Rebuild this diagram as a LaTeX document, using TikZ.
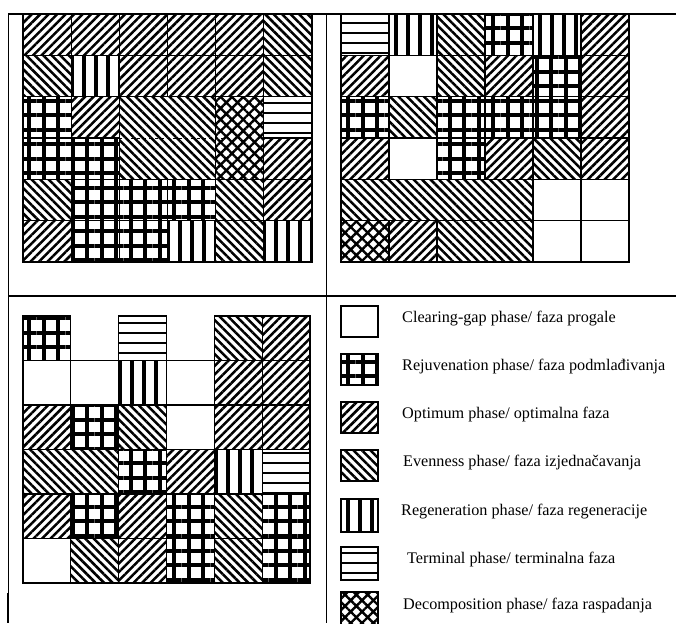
\documentclass[tikz,border=0pt]{standalone}
\usepackage{fontspec}
\setmainfont{Liberation Serif}
\usetikzlibrary{patterns.meta}
\tikzset{
  cell/.style={draw,line width=1.2pt},
  gap/.style={cell,fill=white},
  opt/.style={cell,pattern={Lines[angle=45,distance=6pt,line width=2.5pt]}},
  even/.style={cell,pattern={Lines[angle=-45,distance=6pt,line width=2.5pt]}},
  rejuv/.style={cell,pattern={Hatch[angle=0,distance=14.5pt,line width=4pt]}},
  regen/.style={cell,pattern={Lines[angle=90,distance=12pt,line width=3.4pt]}},
  term/.style={cell,pattern={Lines[angle=0,distance=10pt,line width=2.4pt]}},
  decomp/.style={cell,pattern={Hatch[angle=45,distance=8pt,line width=2.4pt]}},
  border/.style={line width=1.8pt},
  legendtext/.style={anchor=base west,inner sep=0pt,font=\fontsize{16.2}{19}\selectfont}
}

\begin{document}
\begin{tikzpicture}[x=1pt,y=-1pt]
  \useasboundingbox[fill=white] (0,0) rectangle (676,623);
  % Table rules
  \draw[line width=2pt] (8,14) -- (676,14);
  \draw[line width=1.6pt] (8,296) -- (676,296);
  \draw[line width=0.8pt] (8,14) -- (8,623);
  \draw[line width=1.6pt] (8,593) -- (8,623);
  \draw[line width=0.8pt] (326,14) -- (326,623);
  % Top left plot
  \begin{scope}[shift={(23,14)},x=48.17pt,y=-41.33pt]
    \foreach \c/\r/\s in {0/0/opt,1/0/opt,2/0/opt,3/0/opt,4/0/opt,5/0/even,
        0/1/even,1/1/regen,2/1/opt,3/1/opt,4/1/opt,5/1/even,
        0/2/rejuv,1/2/opt,5/2/term,
        0/3/rejuv,1/3/rejuv,5/3/opt,
        0/4/even,1/4/rejuv,2/4/rejuv,3/4/rejuv,4/4/even,5/4/opt,
        0/5/opt,1/5/rejuv,2/5/rejuv,3/5/regen,4/5/even,5/5/regen}
      \draw[\s] (\c,\r) rectangle ++(1,1);
    \draw[even] (2,2) rectangle ++(2,2);
    \draw[decomp] (4,2) rectangle ++(1,2);
    \draw[dashed,line width=0.9pt] (2,3) -- (4.35,3);
    \draw[border] (0,0) rectangle (6,6);
  \end{scope}
  % Top right plot
  \begin{scope}[shift={(341,14)},x=48pt,y=-41.33pt]
    \foreach \c/\r/\s in {0/0/term,1/0/regen,2/0/even,3/0/rejuv,4/0/regen,5/0/opt,
        0/1/opt,1/1/gap,2/1/even,3/1/opt,4/1/rejuv,5/1/opt,
        0/2/rejuv,1/2/even,2/2/rejuv,3/2/rejuv,4/2/rejuv,5/2/opt,
        0/3/opt,1/3/gap,2/3/rejuv,3/3/opt,4/3/even,5/3/opt,
        4/4/gap,5/4/gap,
        0/5/decomp,1/5/opt,4/5/gap,5/5/gap}
      \draw[\s] (\c,\r) rectangle ++(1,1);
    \draw[even] (0,4) rectangle ++(4,1);
    \draw[even] (2,5) rectangle ++(2,1);
    \draw[border] (0,0) rectangle (6,6);
  \end{scope}
  % Bottom left plot
  \begin{scope}[shift={(23,316)},x=47.83pt,y=-44.5pt]
    \foreach \c/\r/\s in {0/0/rejuv,2/0/term,4/0/even,5/0/opt,
        0/1/gap,1/1/gap,2/1/regen,3/1/gap,4/1/opt,5/1/opt,
        0/2/opt,1/2/rejuv,2/2/even,3/2/gap,4/2/opt,5/2/opt,
        2/3/rejuv,3/3/opt,4/3/regen,5/3/term,
        0/4/opt,1/4/rejuv,2/4/opt,3/4/rejuv,4/4/even,5/4/rejuv,
        0/5/gap,1/5/even,2/5/opt,3/5/rejuv,4/5/even,5/5/rejuv}
      \draw[\s] (\c,\r) rectangle ++(1,1);
    \draw[even] (0,3) rectangle ++(2,1);
    \draw[border] (0,0) -- (0,6) -- (6,6) -- (6,0) -- (4,0);
    \draw[border] (0,0) -- (1,0) (2,0) -- (3,0);
  \end{scope}
  % Legend
  \draw[gap] (341,306) rectangle (378,337);
  \node[legendtext] (lgap) at (402,322) {Clearing-gap phase/ faza progale};
  \draw[rejuv] (341,354) rectangle (378,385);
  \node[legendtext] (lrejuv) at (402,370) {Rejuvenation phase/ faza podmlađivanja};
  \draw[opt] (341,402) rectangle (378,433);
  \node[legendtext] (lopt) at (402,418) {Optimum phase/ optimalna faza};
  \draw[even] (341,450) rectangle (378,481);
  \node[legendtext] (leven) at (403,466) {Evenness phase/ faza izjednačavanja};
  \draw[regen] (341,499) rectangle (378,532);
  \node[legendtext] (lregen) at (401,515) {Regeneration phase/ faza regeneracije};
  \draw[term] (341,547) rectangle (378,580);
  \node[legendtext] (lterm) at (407,563) {Terminal phase/ terminalna faza};
  \draw[decomp] (341,592) rectangle (378,626);
  \node[legendtext] (ldecomp) at (403,609) {Decomposition phase/ faza raspadanja};
\end{tikzpicture}
\end{document}
